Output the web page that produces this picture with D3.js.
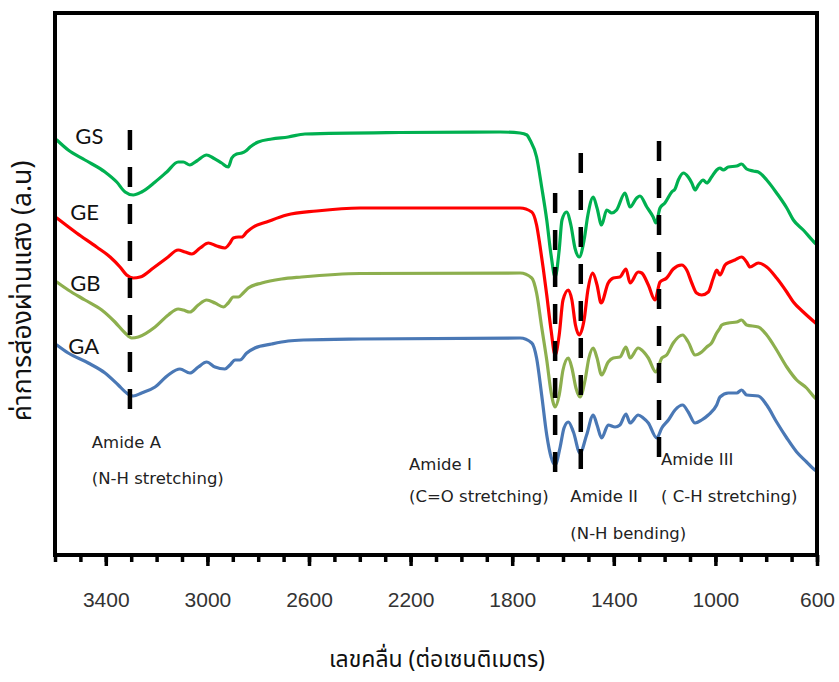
<!DOCTYPE html>
<html>
<head>
<meta charset="utf-8">
<script src="https://cdn.jsdelivr.net/npm/d3@7"></script>
<style>
  html, body { margin: 0; padding: 0; background: #fff; }
  svg { display: block; }
</style>
</head>
<body>
<svg id="chart" width="839" height="682"></svg>
<script>
// ---- Data (wavenumber cm^-1, relative transmittance a.u.) ----
const seriesNames = ["GS", "GE", "GB", "GA"];
const seriesColors = ["#00B050", "#FF0000", "#8DAF4E", "#4A78B5"];

const GS = [[3593,415],[3548,405],[3482,395],[3403,383],[3357,373],[3324,363],[3292,360],[3259,363],[3206,373],[3160,383],[3115,393],[3095,393],[3069,390],[3042,394],[3003,400],[2977,397],[2944,392],[2918,388],[2904,397],[2885,401],[2865,402],[2849,404],[2832,408],[2800,413],[2747,416],[2682,418],[2616,421],[2242,422.5],[1848,423],[1769,422],[1742,420],[1730,415],[1704,398],[1684,368],[1664,335],[1647,300],[1631,278],[1615,305],[1604,335],[1586,343],[1569,330],[1553,307],[1536,298],[1517,315],[1502,340],[1481,358],[1466,347],[1448,330],[1428,345],[1408,342],[1389,345],[1356,362],[1336,348],[1310,357],[1297,359],[1270,348],[1245,338],[1234,332],[1218,347],[1199,352],[1172,363],[1159,366],[1146,375],[1126,382],[1107,378],[1093,372],[1080,365],[1067,370],[1048,375],[1034,372],[1015,378],[995,385],[982,387],[969,385],[949,388],[916,389],[897,391],[877,386],[851,384],[831,383],[798,375],[759,362],[719,347],[693,335],[654,325],[608,312],[600,310]];

const GE = [[3593,337],[3515,322],[3436,308],[3383,298],[3344,288],[3318,280],[3292,277],[3265,278],[3213,287],[3160,297],[3115,305],[3088,303],[3062,301],[3029,307],[2996,312],[2963,309],[2931,307],[2911,312],[2898,317],[2878,318],[2865,318],[2845,323],[2819,328],[2767,333],[2688,340],[2570,344],[2399,347],[1769,347],[1723,343],[1704,330],[1691,310],[1678,287],[1664,260],[1647,225],[1631,200],[1615,220],[1600,255],[1579,265],[1565,255],[1551,230],[1536,220],[1517,235],[1502,265],[1483,282],[1466,270],[1450,252],[1422,272],[1402,277],[1376,278],[1352,286],[1336,272],[1304,283],[1290,282],[1264,270],[1238,255],[1218,273],[1192,277],[1166,286],[1133,290],[1113,285],[1093,272],[1074,262],[1054,260],[1028,263],[1008,277],[995,285],[982,280],[962,290],[943,293],[923,295],[897,298],[877,293],[864,288],[831,292],[798,288],[759,277],[719,263],[693,253],[654,243],[601,231]];

const GB = [[3593,273],[3548,265],[3482,255],[3416,245],[3364,233],[3324,222],[3298,217],[3272,218],[3206,228],[3154,240],[3115,246],[3095,245],[3069,243],[3036,250],[3003,255],[2970,252],[2937,248],[2918,252],[2898,258],[2878,258],[2859,262],[2839,267],[2786,272],[2708,276],[2629,278],[2399,281.5],[1769,282],[1723,277],[1704,262],[1684,228],[1664,195],[1647,163],[1631,148],[1615,160],[1600,185],[1579,197],[1565,187],[1549,167],[1533,158],[1513,175],[1498,197],[1481,207],[1466,197],[1448,180],[1422,193],[1402,197],[1376,198],[1352,208],[1336,197],[1304,207],[1290,205],[1264,197],[1234,183],[1211,197],[1192,200],[1166,212],[1129,220],[1107,213],[1080,200],[1054,203],[1034,208],[1015,212],[995,222],[982,227],[975,230],[949,232],[916,233],[897,235],[877,230],[831,228],[798,220],[759,205],[719,188],[680,175],[641,167],[608,157],[600,155]];

const GA = [[3593,210],[3548,202],[3469,192],[3403,182],[3351,170],[3318,162],[3292,159],[3259,162],[3206,168],[3154,180],[3108,186],[3069,182],[3036,188],[3003,193],[2970,188],[2931,186],[2911,190],[2891,195],[2872,195],[2845,202],[2813,207],[2747,211],[2682,214],[2622,215],[2399,216],[1769,217],[1723,212],[1704,197],[1684,160],[1664,120],[1647,98],[1631,90],[1612,107],[1596,127],[1579,133],[1559,123],[1533,102],[1507,120],[1481,140],[1466,130],[1448,117],[1422,130],[1395,128],[1376,130],[1352,141],[1336,132],[1304,140],[1284,137],[1264,132],[1231,117],[1211,127],[1185,135],[1159,145],[1129,150],[1107,143],[1080,132],[1054,135],[1028,140],[995,150],[982,158],[949,162],[916,162],[897,165],[877,160],[831,159],[798,150],[759,133],[719,117],[680,103],[641,93],[608,85],[600,84]];

const seriesData = [GS, GE, GB, GA];

// Vertical dashed marker lines: [wavenumber, top value, bottom value]
const markerLines = [[3305, 425, 142], [1631, 362, 78], [1530, 402, 82], [1222, 414, 93]];

// Annotation texts: [wavenumber anchor, value, text]
const annotations = [
  [3455, 107, "Amide A"], [3455, 71, "(N-H stretching)"],
  [2206, 85, "Amide I"], [2206, 53, "(C=O stretching)"],
  [1571, 53, "Amide II"], [1571, 16, "(N-H bending)"],
  [1214, 90, "Amide III"], [1214, 53, "( C-H stretching)"]
];

// Series labels: [wavenumber, value, name]
const seriesLabels = [[3520, 411, "GS"], [3540, 335, "GE"], [3540, 264, "GB"], [3548, 201, "GA"]];

const majorTicks = [3400, 3000, 2600, 2200, 1800, 1400, 1000, 600];
const minorTicks = d3.range(3600, 599, -100);

const xTitle = "เลขคลื่น (ต่อเซนติเมตร)";
const yTitle = "ค่าการส่องผ่านแสง (a.u)";

// ---- Layout ----
const svg = d3.select("#chart");
const L = 55, R = 817, T = 13, B = 555;
const x = d3.scaleLinear().domain([3600, 600]).range([L, R]);
const y = d3.scaleLinear().domain([0, 542]).range([B, T]);

// Curves
const line = d3.line().x(d => x(d[0])).y(d => y(d[1])).curve(d3.curveMonotoneX);
seriesData.forEach((s, i) => {
  const sorted = s.slice().sort((a, b) => b[0] - a[0]);
  svg.append("path").datum(sorted)
    .attr("fill", "none").attr("stroke", seriesColors[i])
    .attr("stroke-width", 3.2).attr("stroke-linejoin", "round").attr("stroke-linecap", "round")
    .attr("d", line);
});

// Dashed lines
svg.selectAll(".mark").data(markerLines).enter().append("line")
  .attr("x1", d => x(d[0])).attr("x2", d => x(d[0]))
  .attr("y1", d => y(d[1])).attr("y2", d => y(d[2]))
  .attr("stroke", "#000").attr("stroke-width", 4.5).attr("stroke-dasharray", "20,17");

// Frame
svg.append("rect").attr("x", L).attr("y", T).attr("width", R - L).attr("height", B - T)
  .attr("fill", "none").attr("stroke", "#000").attr("stroke-width", 4);

// Axes
const minorAxis = d3.axisBottom(x).tickValues(minorTicks).tickSize(7).tickFormat("");
const gMinor = svg.append("g").attr("transform", `translate(0,${B})`).call(minorAxis);
gMinor.select(".domain").remove();
gMinor.selectAll("line").attr("stroke", "#000").attr("stroke-width", 3.5);

const majorAxis = d3.axisBottom(x).tickValues(majorTicks).tickSize(11).tickPadding(26).tickFormat(d3.format("d"));
const gMajor = svg.append("g").attr("transform", `translate(0,${B})`).call(majorAxis);
gMajor.select(".domain").remove();
gMajor.selectAll("line").attr("stroke", "#000").attr("stroke-width", 3.5);
gMajor.selectAll("text").attr("fill", "#333")
  .style("font-family", "'Liberation Sans Narrow', 'Arial Narrow', sans-serif").style("font-size", "21px");

// Series labels
svg.selectAll(".slab").data(seriesLabels).enter().append("text")
  .attr("x", d => x(d[0])).attr("y", d => y(d[1]))
  .text(d => d[2]).attr("fill", "#111")
  .style("font-family", "Lato, 'Open Sans', sans-serif").style("font-size", "22px");

// Annotations
svg.selectAll(".ann").data(annotations).enter().append("text")
  .attr("x", d => x(d[0])).attr("y", d => y(d[1]))
  .text(d => d[2]).attr("fill", "#222")
  .style("font-family", "'DejaVu Sans', sans-serif").style("font-size", "16.5px");

// Axis titles
svg.append("text").attr("x", 437).attr("y", 667).attr("text-anchor", "middle")
  .text(xTitle).attr("fill", "#111")
  .style("font-family", "'Noto Sans Thai', 'Noto Sans', sans-serif").style("font-size", "23px");
svg.append("text").attr("transform", "translate(31,291) rotate(-90)").attr("text-anchor", "middle")
  .text(yTitle).attr("fill", "#111")
  .style("font-family", "'Noto Sans Thai', 'Noto Sans', sans-serif").style("font-size", "26.5px");
</script>
</body>
</html>
